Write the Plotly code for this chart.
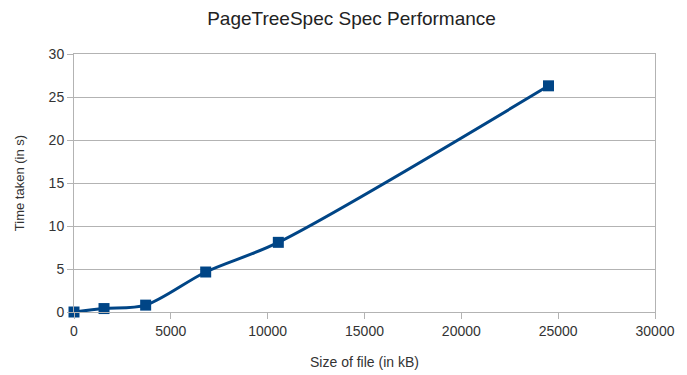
import plotly.graph_objects as go

file_size_kb = [0, 1550, 3700, 6800, 10550, 24500]
time_s = [0.0, 0.4, 0.8, 4.65, 8.1, 26.3]

x_ticks = [0, 5000, 10000, 15000, 20000, 25000, 30000]
y_ticks = [0, 5, 10, 15, 20, 25, 30]

color = "#004586"
font = "Liberation Sans, Arial, sans-serif"

fig = go.Figure(go.Scatter(
    x=file_size_kb, y=time_s, mode="lines+markers",
    line=dict(color=color, width=3, shape="spline", smoothing=0.85),
    marker=dict(symbol="square", size=11, color=color),
    cliponaxis=False,
    showlegend=False,
))

fig.update_layout(
    width=687, height=375,
    margin=dict(l=66, r=40, t=46, b=71),
    paper_bgcolor="white", plot_bgcolor="white",
    font=dict(family=font, size=14, color="#333333"),
    title=dict(text="PageTreeSpec Spec Performance", x=0.5, xanchor="center",
               y=1 - 10 / 375, yanchor="middle", font=dict(size=19, color="#222222")),
    xaxis=dict(range=[0, 30000], tickvals=x_ticks, ticktext=[str(v) for v in x_ticks],
               showgrid=False, zeroline=False, showline=True, mirror=True,
               linecolor="#b3b3b3", linewidth=1, ticks="outside", ticklen=6,
               tickcolor="#b3b3b3", automargin=False,
               title=dict(text="Size of file (in kB)", font=dict(size=14), standoff=19)),
    yaxis=dict(range=[0, 30], tickvals=y_ticks, showgrid=True, gridcolor="#b3b3b3",
               zeroline=False, showline=True, mirror=True, linecolor="#b3b3b3",
               linewidth=1, ticks="outside", ticklen=6, tickcolor="#b3b3b3",
               automargin=False,
               title=dict(text="Time taken (in s)", font=dict(size=13), standoff=21)),
)

fig.write_html("out.html")
